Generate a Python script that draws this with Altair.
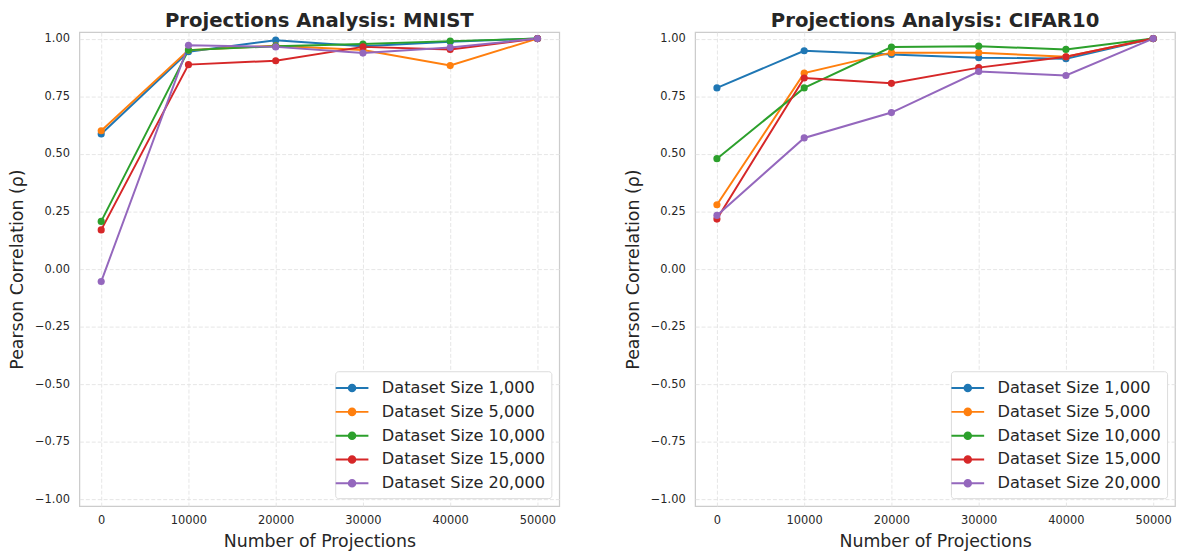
import altair as alt
import pandas as pd

projections = [0, 10000, 20000, 30000, 40000, 50000]
series = ["Dataset Size 1,000", "Dataset Size 5,000", "Dataset Size 10,000",
          "Dataset Size 15,000", "Dataset Size 20,000"]
colors = ["#1f77b4", "#ff7f0e", "#2ca02c", "#d62728", "#9467bd"]

mnist_1000 = [0.586, 0.943, 0.993, 0.967, 0.986, 1.0]
mnist_5000 = [0.600, 0.950, 0.969, 0.950, 0.883, 1.0]
mnist_10000 = [0.207, 0.950, 0.967, 0.976, 0.989, 1.0]
mnist_15000 = [0.170, 0.887, 0.904, 0.964, 0.953, 1.0]
mnist_20000 = [-0.054, 0.971, 0.964, 0.937, 0.961, 1.0]

cifar_1000 = [0.786, 0.947, 0.931, 0.917, 0.913, 1.0]
cifar_5000 = [0.279, 0.850, 0.939, 0.939, 0.921, 1.0]
cifar_10000 = [0.479, 0.786, 0.963, 0.967, 0.953, 1.0]
cifar_15000 = [0.217, 0.829, 0.806, 0.874, 0.921, 1.0]
cifar_20000 = [0.233, 0.569, 0.679, 0.857, 0.840, 1.0]

y_ticks = [-1.0, -0.75, -0.5, -0.25, 0.0, 0.25, 0.5, 0.75, 1.0]


def build(values_list):
    rows = []
    for s, vals in zip(series, values_list):
        for p, v in zip(projections, vals):
            rows.append({"projections": p, "series": s, "value": v})
    return pd.DataFrame(rows)


FONT = "DejaVu Sans"
TXT = "#262626"
SYMBOL = "M-1.65,0L1.65,0M-0.33,0a0.33,0.33 0 1,0 0.66,0a0.33,0.33 0 1,0 -0.66,0Z"


def panel(df, title):
    x = alt.X("projections:Q",
              scale=alt.Scale(domain=[-2500, 52500], nice=False, zero=False),
              axis=alt.Axis(values=projections, format="d", title="Number of Projections"))
    y = alt.Y("value:Q",
              scale=alt.Scale(domain=[-1.028, 1.028], nice=False, zero=False),
              axis=alt.Axis(values=y_ticks, format=".2f", title="Pearson Correlation (ρ)"))
    leg = alt.Legend(title=None, orient="bottom-right", offset=8,
                     symbolType=SYMBOL, symbolSize=400, symbolStrokeWidth=2,
                     labelFontSize=16.3, labelFont=FONT, labelColor=TXT, labelLimit=400,
                     rowPadding=4, padding=6, labelOffset=19,
                     fillColor="white", strokeColor="#dcdcdc", cornerRadius=3,
                     symbolOpacity=1)
    sc = alt.Scale(domain=series, range=colors)
    base = alt.Chart(df)
    line = base.mark_line(strokeWidth=2).encode(
        x=x, y=y,
        stroke=alt.Stroke("series:N", scale=sc, sort=series, legend=leg),
        order="projections:Q",
    )
    pts = base.mark_circle(size=52, opacity=1).encode(
        x=x, y=y,
        fill=alt.Fill("series:N", scale=sc, sort=series, legend=leg),
    )
    return alt.layer(line, pts).properties(
        width=484, height=478,
        title=alt.TitleParams(title, fontSize=19.8, font=FONT, fontWeight="bold",
                              color=TXT, offset=1, anchor="middle"),
    )


left = panel(build([mnist_1000, mnist_5000, mnist_10000, mnist_15000, mnist_20000]),
             "Projections Analysis: MNIST")
right = panel(build([cifar_1000, cifar_5000, cifar_10000, cifar_15000, cifar_20000]),
              "Projections Analysis: CIFAR10")

chart = alt.hconcat(left, right, spacing=64).resolve_legend(
    stroke="independent", fill="independent"
).properties(padding={"left": 0, "top": 0, "right": 0, "bottom": 0}).configure_view(
    stroke="#cccccc", strokeWidth=1.25
).configure_axis(
    domain=False, ticks=False, grid=True, gridColor="#e3e3e3", gridDash=[4, 2],
    gridWidth=0.9, labelFont=FONT, labelFontSize=11.5, labelColor=TXT,
    labelPadding=9, titleFont=FONT, titleFontSize=17.5, titleFontWeight="normal",
    titleColor=TXT, titlePadding=6,
).configure_axisY(labelPadding=10, titlePadding=8)

chart.save("out.html", embed_options={"renderer": "svg", "actions": False})
